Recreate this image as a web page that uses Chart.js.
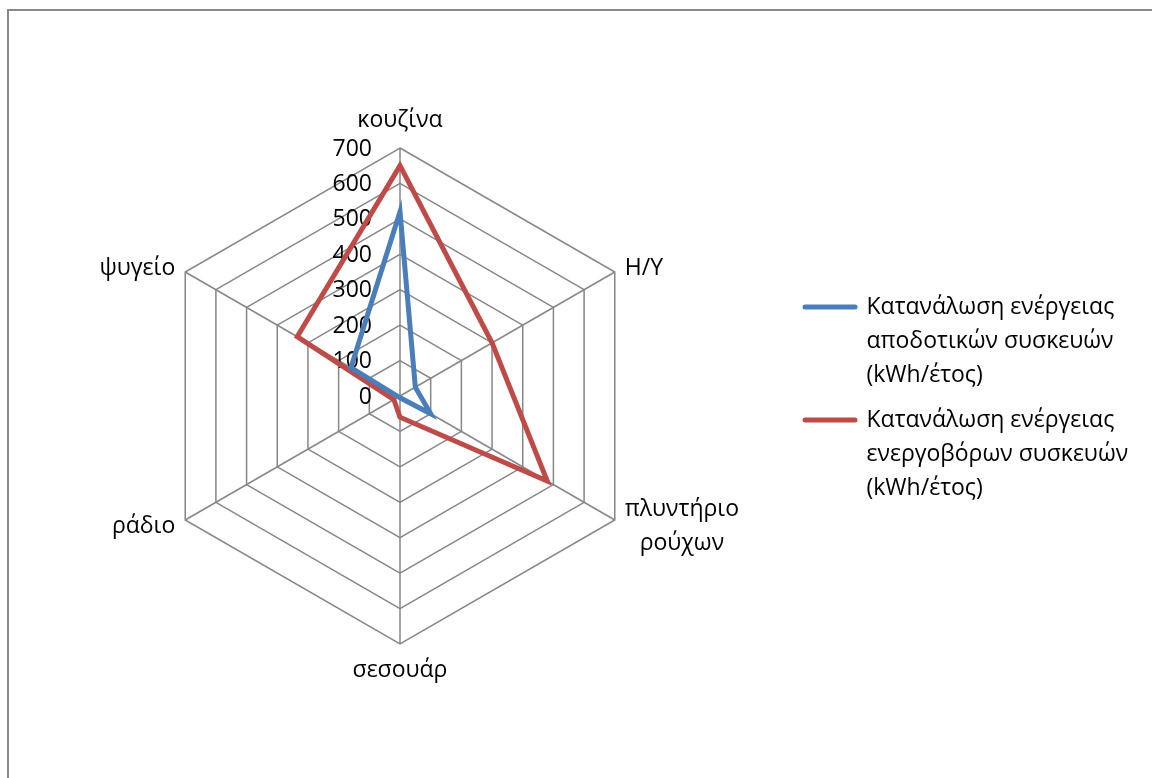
<!DOCTYPE html>
<html lang="el">
<head>
<meta charset="utf-8">
<title>Κατανάλωση ενέργειας συσκευών</title>
<script src="https://cdn.jsdelivr.net/npm/chart.js@4.4.1/dist/chart.umd.min.js"></script>
<style>
    html, body { margin: 0; padding: 0; background: #fff; overflow: hidden; }
    #marco {
        position: absolute; left: 7px; top: 9px;
        width: 1300px; height: 900px;
        border-left: 2px solid #898989; border-top: 2px solid #898989;
    }
    #grafico { position: absolute; left: 0; top: 0; }
</style>
</head>
<body>
<div id="marco"></div>
<canvas id="grafico" width="1152" height="778"></canvas>
<script>
// ─── Datos ────────────────────────────────────────────────────────
const categorias = ['κουζίνα', 'Η/Υ', ['πλυντήριο', 'ρούχων'], 'σεσουάρ', 'ράδιο', 'ψυγείο'];

const apodotikes  = [520, 50, 100, 5, 5, 160];   // αποδοτικές συσκευές
const energovores = [650, 300, 480, 60, 20, 335]; // ενεργοβόρες συσκευές

const etiquetaApodotikes  = ['Κατανάλωση ενέργειας', 'αποδοτικών συσκευών', '(kWh/έτος)'];
const etiquetaEnergovores = ['Κατανάλωση ενέργειας', 'ενεργοβόρων συσκευών', '(kWh/έτος)'];

const ejeMin  = 0;
const ejeMax  = 700;
const ejePaso = 100;

// ─── Estilo ───────────────────────────────────────────────────────
const FUENTE   = "'Open Sans', 'Noto Sans', sans-serif";
const TAM      = 23;
const LINEA    = 34;
const GRIS     = '#878787';
const AZUL     = '#4a7ebb';
const ROJO     = '#be4b48';
const GROSOR   = 5;

const LEY_PAD  = 11;
const LEY_CAJA = 50;
const LEY_X    = 794;   // borde izquierdo de la leyenda = borde derecho del área

Chart.defaults.font.family = FUENTE;
Chart.defaults.color = '#000';

// Ancho natural de la leyenda (misma cuenta que hace Chart.js en _fitCols)
function anchoLeyenda() {
    const c = document.createElement('canvas').getContext('2d');
    c.font = TAM + 'px ' + FUENTE;
    const w = Math.max(...[etiquetaApodotikes, etiquetaEnergovores].map(l =>
        c.measureText(l.reduce((a, b) => a.length > b.length ? a : b)).width));
    return LEY_PAD + LEY_CAJA + TAM / 2 + w + 10;
}

// ─── Plugin: valores del eje radial (a la izquierda del eje vertical) ─
const marcasEje = {
    id: 'marcasEje',
    beforeDatasetsDraw(chart) {
        const r = chart.scales.r;
        const ctx = chart.ctx;
        ctx.save();
        ctx.font = TAM + 'px ' + FUENTE;
        ctx.fillStyle = '#000';
        ctx.textAlign = 'right';
        ctx.textBaseline = 'middle';
        r.ticks.forEach(t => {
            const y = r.yCenter - r.getDistanceFromCenterForValue(t.value);
            ctx.fillText(t.label, r.xCenter - 28, y + 1);
        });
        ctx.restore();
    }
};

// ─── Plugin: nombres de las categorías junto a cada vértice ───────
const nombresEjes = {
    id: 'nombresEjes',
    afterDraw(chart) {
        const r = chart.scales.r;
        const ctx = chart.ctx;
        ctx.save();
        ctx.font = TAM + 'px ' + FUENTE;
        ctx.fillStyle = '#000';
        ctx.textBaseline = 'alphabetic';
        ctx.textAlign = 'center';

        chart.data.labels.forEach((lab, i) => {
            const lineas = Array.isArray(lab) ? lab : [lab];
            const p = r.getPointPosition(i, r.drawingArea);
            const ang = Math.round(r.getIndexAngle(i) * 180 / Math.PI) % 360;
            const anchoMax = Math.max(...lineas.map(s => ctx.measureText(s).width));
            const alto = lineas.length * LINEA;

            let cx, y0;
            if (ang === 0) {
                cx = p.x;
                y0 = p.y - 21 - (lineas.length - 1) * LINEA;
            } else if (ang === 180) {
                cx = p.x;
                y0 = p.y + 33;
            } else {
                cx = ang < 180 ? p.x + 10 + anchoMax / 2 : p.x - 10 - anchoMax / 2;
                const centro = p.y + ((ang > 90 && ang < 270) ? 10 : 0);
                y0 = centro - alto / 2 + 20;
            }
            lineas.forEach((s, k) => ctx.fillText(s, cx, y0 + k * LINEA));
        });
        ctx.restore();
    }
};

// ─── Gráfico ──────────────────────────────────────────────────────
const padDer = 1152 - LEY_X - anchoLeyenda();

new Chart(document.getElementById('grafico'), {
    type: 'radar',
    data: {
        labels: categorias,
        datasets: [
            {
                label: etiquetaApodotikes,
                data: apodotikes,
                borderColor: AZUL,
                backgroundColor: AZUL
            },
            {
                label: etiquetaEnergovores,
                data: energovores,
                borderColor: ROJO,
                backgroundColor: ROJO
            }
        ]
    },
    options: {
        responsive: false,
        animation: false,
        devicePixelRatio: 1,
        events: [],
        layout: { padding: { left: 6, top: 148, bottom: 134, right: padDer } },
        elements: {
            line: { borderWidth: GROSOR, fill: false, tension: 0, borderJoinStyle: 'miter', borderCapStyle: 'round' },
            point: { radius: 0, hoverRadius: 0 }
        },
        scales: {
            r: {
                min: ejeMin,
                max: ejeMax,
                ticks: { stepSize: ejePaso, display: false },
                pointLabels: { display: false },
                grid: { color: GRIS, lineWidth: 1.5 },
                angleLines: { color: GRIS, lineWidth: 1.5 }
            }
        },
        plugins: {
            tooltip: { enabled: false },
            legend: {
                position: 'right',
                align: 'center',
                title: { display: true, text: '', font: { size: 14, lineHeight: 1 }, padding: 0 },
                labels: {
                    usePointStyle: true,
                    pointStyle: 'line',
                    pointStyleWidth: LEY_CAJA,
                    padding: LEY_PAD,
                    color: '#000',
                    font: { size: TAM, lineHeight: LINEA + 'px' },
                    // la línea de la leyenda con el mismo trazo que la serie
                    generateLabels(chart) {
                        const base = Chart.defaults.plugins.legend.labels.generateLabels(chart);
                        return base.map(it => {
                            const ds = chart.data.datasets[it.datasetIndex];
                            return Object.assign(it, {
                                strokeStyle: ds.borderColor,
                                fillStyle: ds.borderColor,
                                lineWidth: GROSOR,
                                lineCap: 'round'
                            });
                        });
                    }
                }
            }
        }
    },
    plugins: [marcasEje, nombresEjes]
});
</script>
</body>
</html>
